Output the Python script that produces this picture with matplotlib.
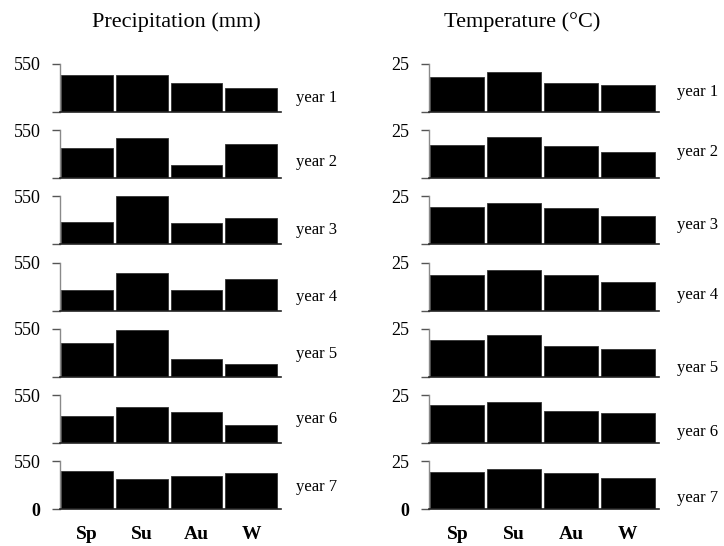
import matplotlib

matplotlib.use("Agg")
import matplotlib.pyplot as plt

plt.rcParams["font.family"] = ["Liberation Serif", "DejaVu Serif"]

SEASONS = ["Sp", "Su", "Au", "W"]
YEARS = ["year 1", "year 2", "year 3", "year 4", "year 5", "year 6", "year 7"]

# precipitation (mm), one row per year, columns Sp/Su/Au/W
precip_y1 = [424, 424, 329, 271]
precip_y2 = [342, 455, 151, 394]
precip_y3 = [262, 550, 250, 300]
precip_y4 = [239, 436, 239, 360]
precip_y5 = [383, 531, 208, 152]
precip_y6 = [311, 407, 351, 205]
precip_y7 = [441, 351, 379, 410]
PRECIP = [precip_y1, precip_y2, precip_y3, precip_y4, precip_y5, precip_y6, precip_y7]

# temperature (deg C)
temp_y1 = [18.1, 21.0, 15.2, 14.1]
temp_y2 = [17.2, 21.3, 16.7, 13.6]
temp_y3 = [19.3, 21.8, 18.8, 14.6]
temp_y4 = [18.4, 20.9, 18.4, 15.0]
temp_y5 = [19.2, 21.7, 16.3, 14.3]
temp_y6 = [19.6, 21.1, 16.7, 15.6]
temp_y7 = [19.3, 21.1, 18.8, 16.1]
TEMP = [temp_y1, temp_y2, temp_y3, temp_y4, temp_y5, temp_y6, temp_y7]

PRECIP_MAX = 550
TEMP_MAX = 25

W, H = 724, 546
fig = plt.figure(figsize=(W / 100, H / 100), dpi=100)

# layout in pixels
ROW_TOP0 = 64
ROW_STEP = 66.2
ROW_H = 48
COLS = [
    dict(x0=60, w=221, data=PRECIP, ymax=PRECIP_MAX, title="Precipitation (mm)",
         title_x=176, lab_x=1.068, lab_y=[0.29, 0.33, 0.31, 0.29, 0.47, 0.50, 0.47]),
    dict(x0=429, w=230, data=TEMP, ymax=TEMP_MAX, title="Temperature (\u00b0C)",
         title_x=522, lab_x=1.078, lab_y=[0.42, 0.55, 0.40, 0.33, 0.18, 0.22, 0.24]),
]

for col in COLS:
    for i, vals in enumerate(col["data"]):
        top = ROW_TOP0 + ROW_STEP * i
        ax = fig.add_axes([col["x0"] / W, 1 - (top + ROW_H) / H, col["w"] / W, ROW_H / H])
        ax.bar(range(len(SEASONS)), vals, width=0.95, color="black",
               edgecolor="#333333", linewidth=0.6)
        ax.set_xlim(-0.5, 3.55)
        ax.set_ylim(0, col["ymax"])
        for s in ("top", "right"):
            ax.spines[s].set_visible(False)
        ax.spines["left"].set_color("#8a8a8a")
        ax.spines["left"].set_linewidth(1.0)
        ax.spines["bottom"].set_color("#222222")
        ax.spines["bottom"].set_linewidth(1.2)
        ax.set_yticks([0, col["ymax"]])
        last = i == len(col["data"]) - 1
        ax.set_yticklabels(["0" if last else "", str(col["ymax"])], fontsize=13)
        if last:
            ax.get_yticklabels()[0].set_fontweight("bold")
        ax.tick_params(axis="y", length=6, width=1.0, color="#555555", pad=8)
        if last:
            ax.set_xticks(range(len(SEASONS)))
            ax.set_xticklabels(SEASONS, fontsize=14, fontweight="bold")
            ax.tick_params(axis="x", length=0, pad=12)
        else:
            ax.set_xticks([])
        ax.text(col["lab_x"], col["lab_y"][i], YEARS[i], transform=ax.transAxes,
                fontsize=12, ha="left", va="center")
    fig.text(col["title_x"] / W, 1 - 22 / H, col["title"], fontsize=16,
             ha="center", va="center")

fig.savefig("out.png", dpi=100)
